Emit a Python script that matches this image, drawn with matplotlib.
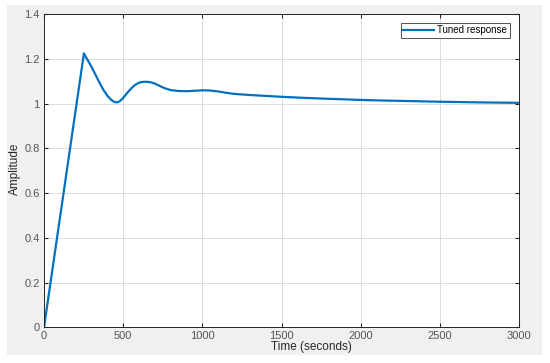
import matplotlib
matplotlib.use("Agg")
import matplotlib.pyplot as plt
from matplotlib.patches import Rectangle

# step response (time in s, amplitude)
t = [0, 252, 262, 280, 300, 325, 350, 375, 400, 425, 445, 462, 480, 500,
     525, 550, 575, 600, 625, 650, 675, 700, 730, 760, 800, 850, 900,
     950, 1000, 1050, 1100, 1150, 1200, 1300, 1400, 1500, 1650, 1800,
     2000, 2100, 2300, 2500, 2750, 3000]
amp = [0, 1.225, 1.212, 1.19, 1.165, 1.13, 1.095, 1.062, 1.036, 1.017, 1.008,
       1.006, 1.012, 1.026, 1.048, 1.068, 1.084, 1.094, 1.098, 1.098, 1.096,
       1.090, 1.080, 1.070, 1.061, 1.057, 1.056, 1.058, 1.060, 1.059, 1.055,
       1.049, 1.044, 1.039, 1.035, 1.031, 1.026, 1.022, 1.017, 1.015, 1.012,
       1.009, 1.006, 1.004]

xticks = [0, 500, 1000, 1500, 2000, 2500, 3000]
yticks = [0, 0.2, 0.4, 0.6, 0.8, 1, 1.2, 1.4]
ylabels = ['0', '0.2', '0.4', '0.6', '0.8', '1', '1.2', '1.4']

plt.rcParams['font.family'] = ['Liberation Sans', 'DejaVu Sans']

fig = plt.figure(figsize=(5.5, 3.63), dpi=100)
fig.patch.set_facecolor('white')
# grey MATLAB figure area
fig.add_artist(Rectangle((7/550, 1-355/363), 535/550, 350/363,
                         transform=fig.transFigure, facecolor='#f0f0f0',
                         edgecolor='none', zorder=-10))

ax = fig.add_axes([44/550, 1-327.3/363, 475/550, 313/363])
ax.set_facecolor('white')
ax.plot(t, amp, color='#0072BD', linewidth=1.6, label='Tuned response')

ax.set_xlim(0, 3000)
ax.set_ylim(0, 1.4)
ax.set_xticks(xticks)
ax.set_yticks(yticks)
ax.set_yticklabels(ylabels)
ax.grid(True, color='#dcdcdc', linewidth=0.7)
ax.tick_params(direction='in', top=True, right=True, length=3,
               labelsize=8, colors='#262626', labelcolor='#555555', pad=3)
for s in ax.spines.values():
    s.set_color('#262626')
    s.set_linewidth(0.7)

# axis labels placed where MATLAB put them
fig.text(15/550, 1-169/363, 'Amplitude', fontsize=8.5, color='#262626',
         ha='center', va='center', rotation=90)
fig.text(311/550, 1-347/363, 'Time (seconds)', fontsize=8.5, color='#262626',
         ha='center', va='center')

leg = ax.legend(loc='upper right', fontsize=7, frameon=True, fancybox=False,
                handlelength=3.2, borderpad=0.25, handletextpad=0.3,
                borderaxespad=0, bbox_to_anchor=(0.980, 0.972))
leg.get_frame().set_edgecolor('#262626')
leg.get_frame().set_linewidth(0.7)

fig.savefig('out.png', dpi=100, facecolor=fig.get_facecolor())
